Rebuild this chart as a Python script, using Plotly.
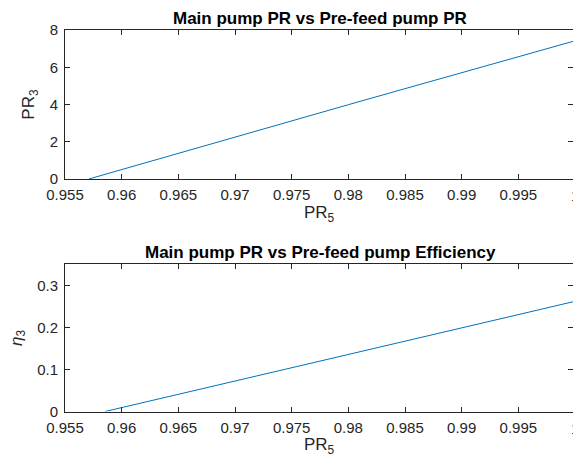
import plotly.graph_objects as go

# Pre-feed pump pressure ratio (x) and the resulting main pump quantities
pr5_a = [0.9571, 0.960, 0.965, 0.970, 0.975, 0.980, 0.985, 0.990, 0.995, 1.000]
pr3 = [0.0, 0.51, 1.39, 2.26, 3.13, 3.99, 4.85, 5.71, 6.57, 7.42]

pr5_b = [0.95853, 0.960, 0.965, 0.970, 0.975, 0.980, 0.985, 0.990, 0.995, 1.000]
eta3 = [0.0, 0.0093, 0.0410, 0.0727, 0.1043, 0.1360, 0.1675, 0.1990, 0.2305, 0.2620]

x_ticks = [0.955, 0.96, 0.965, 0.97, 0.975, 0.98, 0.985, 0.99, 0.995, 1.0]
x_tick_text = ["0.955", "0.96", "0.965", "0.97", "0.975", "0.98", "0.985", "0.99", "0.995", "1"]
y1_ticks = [0, 2, 4, 6, 8]
y2_ticks = [0, 0.1, 0.2, 0.3]
y2_tick_text = ["0", "0.1", "0.2", "0.3"]

titles = ["Main pump PR vs Pre-feed pump PR", "Main pump PR vs Pre-feed pump Efficiency"]

W, H = 573, 467
LINE = "#0072BD"
AX = "#262626"
FONT = "Liberation Sans, Arial, sans-serif"

x_lo = 0.955
x_hi = 0.955 + 0.045 * 508 / 510  # the axis box runs just past the page edge

dom_x = [65 / W, 1.0]
dom_y1 = [(H - 179) / H, (H - 30) / H]
dom_y2 = [(H - 411.5) / H, (H - 264.3) / H]
y1_range = [0, 8]
y2_range = [0, 0.35]

fig = go.Figure()
fig.add_trace(go.Scatter(x=pr5_a, y=pr3, mode="lines", line=dict(color=LINE, width=1),
                         xaxis="x", yaxis="y", showlegend=False, hoverinfo="skip"))
fig.add_trace(go.Scatter(x=pr5_b, y=eta3, mode="lines", line=dict(color=LINE, width=1),
                         xaxis="x2", yaxis="y2", showlegend=False, hoverinfo="skip"))
# empty traces so the top/right frame axes get drawn
fig.add_trace(go.Scatter(x=[None], y=[None], xaxis="x3", yaxis="y3", showlegend=False, hoverinfo="skip"))
fig.add_trace(go.Scatter(x=[None], y=[None], xaxis="x4", yaxis="y4", showlegend=False, hoverinfo="skip"))

tickfont = dict(family=FONT, size=15, color=AX)
labelfont = dict(family=FONT, size=17, color=AX)

def xaxis(anchor, title):
    return dict(domain=dom_x, anchor=anchor, range=[x_lo, x_hi], automargin=False,
                tickvals=x_ticks, ticktext=x_tick_text, ticks="inside", ticklen=5,
                tickcolor=AX, tickwidth=1, showline=True, linecolor=AX, linewidth=1,
                mirror=False, showgrid=False, zeroline=False, tickfont=tickfont,
                ticklabelstandoff=2,
                title=dict(text=title, font=labelfont, standoff=2))

def yaxis(anchor, dom, rng, vals, text, title):
    return dict(domain=dom, anchor=anchor, range=rng, tickvals=vals, ticktext=text,
                automargin=False,
                ticks="inside", ticklen=5, tickcolor=AX, tickwidth=1, showline=True,
                linecolor=AX, linewidth=1, mirror=False, showgrid=False, zeroline=False,
                tickfont=tickfont, ticklabelstandoff=3,
                title=dict(text=title, font=labelfont, standoff=10))

def top_axis(overlay, anchor):
    return dict(overlaying=overlay, anchor=anchor, side="top", range=[x_lo, x_hi],
                automargin=False,
                tickvals=x_ticks, ticks="inside", ticklen=5, tickcolor=AX,
                showticklabels=False, showline=True, linecolor=AX, linewidth=1,
                showgrid=False, zeroline=False)

def right_axis(overlay, anchor, rng, vals):
    return dict(overlaying=overlay, anchor=anchor, side="right", range=rng,
                automargin=False,
                tickvals=vals, ticks="inside", ticklen=5, tickcolor=AX,
                showticklabels=False, showline=False, showgrid=False, zeroline=False)

fig.update_layout(
    width=W, height=H,
    margin=dict(l=0, r=0, t=0, b=0),
    paper_bgcolor="white", plot_bgcolor="white",
    font=dict(family=FONT, color=AX),
    xaxis=xaxis("y", "PR<sub>5</sub>"),
    yaxis=yaxis("x", dom_y1, y1_range, y1_ticks, [str(v) for v in y1_ticks], "PR<sub>3</sub>"),
    xaxis2=xaxis("y2", "PR<sub>5</sub>"),
    yaxis2=yaxis("x2", dom_y2, y2_range, y2_ticks, y2_tick_text, "<i>η</i><sub>3</sub>"),
    xaxis3=top_axis("x", "y3"),
    yaxis3=right_axis("y", "x3", y1_range, y1_ticks),
    xaxis4=top_axis("x2", "y4"),
    yaxis4=right_axis("y2", "x4", y2_range, y2_ticks),
)

# subplot titles
for t, dom in zip(titles, [dom_y1, dom_y2]):
    fig.add_annotation(text="<b>" + t + "</b>", xref="paper", yref="paper",
                       x=(65 + 575) / 2 / W, y=dom[1], xanchor="center", yanchor="bottom",
                       yshift=0, showarrow=False,
                       font=dict(family=FONT, size=17, color="black"))

# the "1" tick label sits on the page edge
for dom in [dom_y1, dom_y2]:
    fig.add_annotation(text="1", xref="paper", yref="paper", x=575 / W, y=dom[0],
                       xanchor="center", yanchor="top", yshift=-6, showarrow=False,
                       font=tickfont)

fig.write_html("out.html")
